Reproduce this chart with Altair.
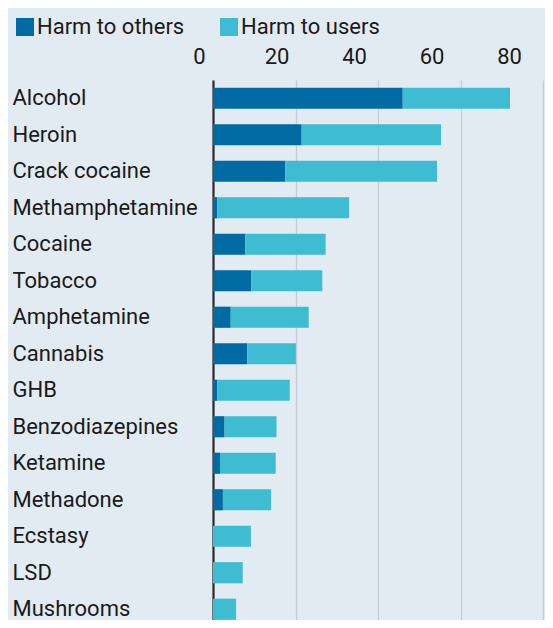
import altair as alt
import pandas as pd

drugs = ["Alcohol", "Heroin", "Crack cocaine", "Methamphetamine", "Cocaine",
         "Tobacco", "Amphetamine", "Cannabis", "GHB", "Benzodiazepines",
         "Ketamine", "Methadone", "Ecstasy", "LSD", "Mushrooms"]
harm_others = [46, 21.5, 17.5, 1, 7.8, 9.3, 4.3, 8.3, 1, 2.8, 1.7, 2.4, 0, 0, 0]
harm_users = [26, 33.8, 36.8, 32, 19.5, 17.2, 18.9, 11.8, 17.6, 12.6, 13.5, 11.7, 9.2, 7.2, 5.6]
series = ["Harm to others", "Harm to users"]
colors = ["#006BA2", "#3EBCD2"]
ticks = [0, 20, 40, 60, 80]

rows = []
for d, o, u in zip(drugs, harm_others, harm_users):
    rows.append({"drug": d, "series": series[0], "value": o, "ord": 0})
    rows.append({"drug": d, "series": series[1], "value": u, "ord": 1})
df = pd.DataFrame(rows)

FONT = "Roboto"
step = 36.5

chart = alt.Chart(df).mark_bar().encode(
    x=alt.X("value:Q", stack="zero",
            scale=alt.Scale(domain=[0, 80], nice=False),
            axis=alt.Axis(orient="top", values=ticks, title=None, ticks=False,
                          domain=False, grid=True, gridColor="#c3ccd4", gridWidth=1.3,
                          labelFontSize=22, labelFont=FONT, labelColor="#1a1a1a",
                          labelBaseline="alphabetic", labelPadding=17,
                          labelFlush=False,
                          labelOffset={"expr": "-14 - datum.value * 0.25"})),
    y=alt.Y("drug:N", sort=drugs,
            scale=alt.Scale(paddingInner=0.42, paddingOuter=0.21,
                            range=[0, 15 * step]),
            axis=alt.Axis(title=None, ticks=False, domain=True, domainColor="#2b2b2b",
                          domainWidth=2.2, labelAlign="left", labelPadding=201,
                          labelLimit=300,
                          labelFontSize=22, labelFont=FONT, labelColor="#1a1a1a",
                          grid=False)),
    color=alt.Color("series:N", title=None,
                    scale=alt.Scale(domain=series, range=colors),
                    legend=alt.Legend(orient="none", legendX=-199, legendY=-64,
                                      direction="horizontal", symbolType="square",
                                      symbolSize=324, symbolStrokeWidth=0,
                                      symbolOpacity=1,
                                      labelFontSize=22, labelFont=FONT,
                                      labelColor="#1a1a1a", labelOffset=1,
                                      columnPadding=33)),
    order=alt.Order("ord:Q"),
).properties(
    width=330, height=540,
    autosize=alt.AutoSizeParams(type="none"),
    padding={"left": 205, "top": 72, "right": 2, "bottom": 0},
    background="#e3ebf2",
).configure_view(stroke=None)

chart.save("out.html", embed_options={"renderer": "svg", "actions": False})
